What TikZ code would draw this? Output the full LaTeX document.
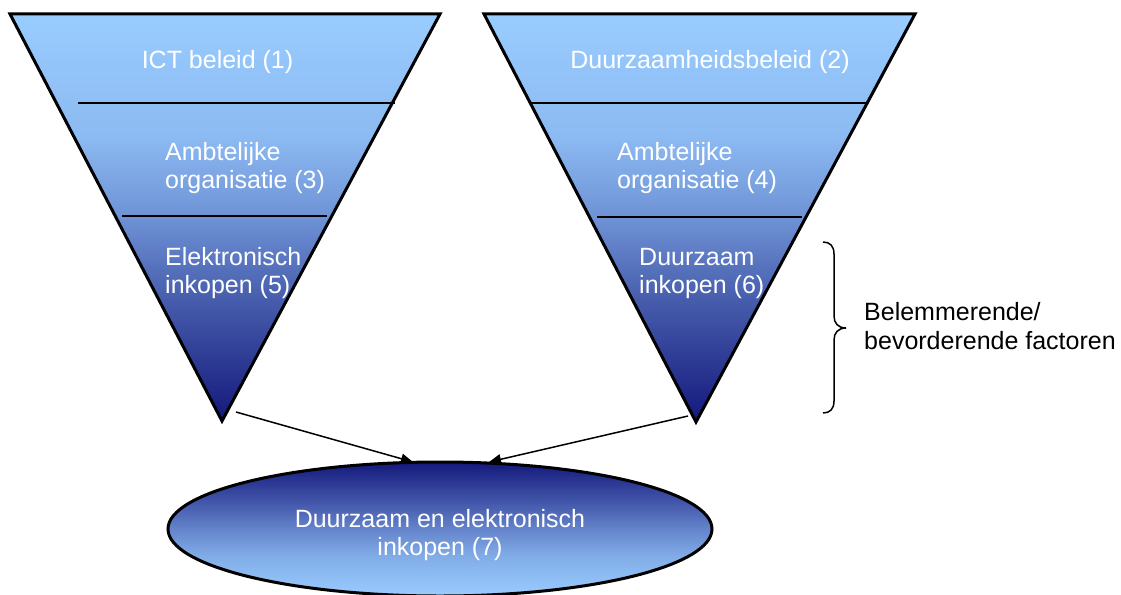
\documentclass[tikz,border=0pt]{standalone}
\usepackage{fontspec}
\setmainfont{Liberation Sans}
\usetikzlibrary{arrows.meta,shapes.geometric}

% funnel colours, light at the wide end, navy at the tip
\definecolor{fnA}{RGB}{153,204,255}
\definecolor{fnB}{RGB}{140,186,242}
\definecolor{fnC}{RGB}{110,146,213}
\definecolor{fnE}{RGB}{71,93,172}
\definecolor{fnD}{RGB}{20,24,124}
% oval colours
\definecolor{ovB}{RGB}{129,172,231}
\definecolor{ovC}{RGB}{100,132,203}
\definecolor{ovE}{RGB}{67,87,170}

\pgfdeclareverticalshading{funnel}{100bp}{%
  color(0bp)=(fnD); color(25bp)=(fnD); color(40bp)=(fnE);
  color(50bp)=(fnC); color(60bp)=(fnB); color(75bp)=(fnA); color(100bp)=(fnA)}
\pgfdeclareverticalshading{oval}{100bp}{%
  color(0bp)=(fnA); color(25bp)=(fnA); color(40bp)=(ovB);
  color(50bp)=(ovC); color(60bp)=(ovE); color(75bp)=(fnD); color(100bp)=(fnD)}

\begin{document}
\begin{tikzpicture}[x=1pt,y=-1pt,
  funnelbox/.style={shading=funnel, draw=black, line width=3pt, line join=miter},
  divider/.style={draw=black, line width=2pt},
  label/.style={text=white, inner sep=0pt, font=\fontsize{25}{28}\selectfont},
  sidetext/.style={text=black, inner sep=0pt, font=\fontsize{25}{29}\selectfont, align=left},
  arr/.style={-{Triangle[length=12pt,width=10pt]}, line width=1.5pt},
  bracepath/.style={draw=black, line width=1.5pt}]
\useasboundingbox (0,0) rectangle (1121,594);

% left funnel
\coordinate (L1) at (10,14);
\coordinate (L2) at (440,14);
\coordinate (Ltip) at (222,421);
\shadedraw[funnelbox] (L1) -- (L2) -- (Ltip) -- cycle;
\draw[divider] (78,103) -- (395,103);
\draw[divider] (122,216) -- (327,216);

% right funnel
\coordinate (R1) at (484,14);
\coordinate (R2) at (915,14);
\coordinate (Rtip) at (696,422);
\shadedraw[funnelbox] (R1) -- (R2) -- (Rtip) -- cycle;
\draw[divider] (530,103) -- (868,103);
\draw[divider] (597,217) -- (802,217);

% layer labels (multi-line nodes are placed by the baseline of their last line)
\node[label, anchor=base] (t1) at (217.5,68) {ICT beleid (1)};
\node[label, anchor=base] (t2) at (710,68) {Duurzaamheidsbeleid (2)};
\node[label, anchor=base west, align=left] (t3) at (165,188) {Ambtelijke\\organisatie (3)};
\node[label, anchor=base west, align=left] (t4) at (617,188) {Ambtelijke\\organisatie (4)};
\node[label, anchor=base west, align=left] (t5) at (165,293) {Elektronisch\\inkopen (5)};
\node[label, anchor=base west, align=left] (t6) at (639,293) {Duurzaam\\inkopen (6)};

% result oval
\node[ellipse, shade, shading=oval, draw=black, line width=3pt,
      minimum width=544pt, minimum height=134pt, inner sep=0pt] (goal) at (440,529) {};
\node[label, anchor=base, align=center] (t7) at (440,555) {Duurzaam en elektronisch\\inkopen (7)};

% connectors
\coordinate (a1) at (236,412);
\coordinate (b1) at (413,462);
\coordinate (a2) at (688,416);
\coordinate (b2) at (489,462);
\draw[arr] (a1) -- (b1);
\draw[arr] (a2) -- (b2);

% brace and its note
\draw[bracepath] (823,242) .. controls (830,242) and (834,246) .. (834,254)
  -- (834,316) .. controls (834,323) and (838,328) .. (846,328)
  .. controls (838,328) and (834,333) .. (834,340)
  -- (834,401) .. controls (834,409) and (830,413) .. (823,413);
\node[sidetext, anchor=base west] (note) at (864,349) {Belemmerende/\\bevorderende factoren};
\end{tikzpicture}
\end{document}
